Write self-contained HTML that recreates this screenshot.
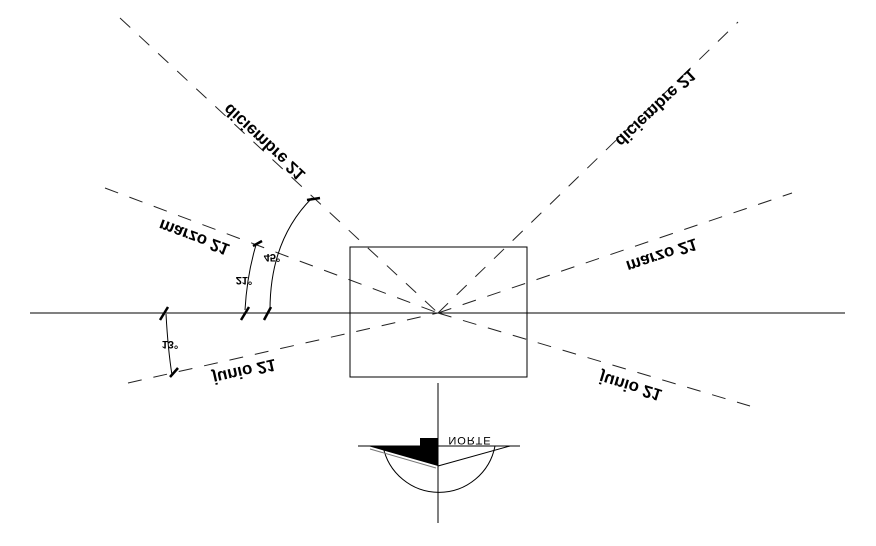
<!DOCTYPE html>
<html><head><meta charset="utf-8"><style>html,body{margin:0;padding:0;background:#fff}svg{display:block}</style></head>
<body>
<svg width="876" height="546" viewBox="0 0 876 546" xmlns="http://www.w3.org/2000/svg">
<g stroke="#000" stroke-width="1" fill="none">
<line x1="30" y1="313" x2="845" y2="313"/>
<rect x="350" y="247" width="177" height="130"/>
<line x1="438" y1="383" x2="438" y2="523"/>
<g stroke-dasharray="14,12" stroke="#222">
<line x1="120" y1="18" x2="438" y2="313"/>
<line x1="438" y1="313" x2="738" y2="22"/>
<line x1="105" y1="188" x2="438" y2="313"/>
<line x1="438" y1="313" x2="792" y2="193"/>
<line x1="128" y1="383" x2="438" y2="313"/>
<line x1="438" y1="313" x2="750" y2="406"/>
</g>
<!-- ticks -->
<g stroke-width="2.5">
<line x1="307" y1="200" x2="320" y2="198"/>
<line x1="160" y1="320" x2="168" y2="307"/>
<line x1="241" y1="320" x2="249" y2="307"/>
<line x1="264" y1="320" x2="271" y2="307"/>
<line x1="170" y1="377" x2="178" y2="368"/>
<line x1="253" y1="246" x2="262" y2="241"/>
</g>
<path d="M166 314 Q168 350 172 375"/>
<path d="M245 310 Q247 275 256 245"/>
<path d="M270 310 Q270 240 312 198"/>
<!-- compass -->
<line x1="358" y1="446" x2="520" y2="446"/>
<path d="M383 446 A57 57 0 0 0 495 446"/>
<line x1="438" y1="466" x2="510" y2="446"/>
</g>
<polygon points="368,446 438,466 438,446" fill="#000"/>
<rect x="420" y="438" width="18" height="8" fill="#000"/>
<line x1="370" y1="449" x2="436" y2="468" stroke="#777" stroke-width="1"/>
<g font-family="Liberation Sans, sans-serif" font-weight="bold" fill="#000" text-anchor="middle">
<text transform="translate(268,138) rotate(42.7) scale(1,-1)" font-size="17">diciembre 21</text>
<text transform="translate(652,104) rotate(-43.5) scale(1,-1)" font-size="17">diciembre 21</text>
<text transform="translate(196,232) rotate(20.6) scale(1,-1)" font-size="17">marzo 21</text>
<text transform="translate(660,250) rotate(-18.5) scale(1,-1)" font-size="17">marzo 21</text>
<text transform="translate(243,366) rotate(-12.8) scale(1,-1)" font-size="17">junio 21</text>
<text transform="translate(632,381) rotate(16.8) scale(1,-1)" font-size="17">junio 21</text>
<text transform="translate(272,254) scale(1,-1)" font-size="11">45°</text>
<text transform="translate(244,277) scale(1,-1)" font-size="11">21°</text>
<text transform="translate(170,341) scale(1,-1)" font-size="11">13°</text>
<text transform="translate(470,437) scale(1,-1)" font-size="11" font-weight="normal" letter-spacing="1">NORTE</text>
</g>
</svg>
</body></html>
